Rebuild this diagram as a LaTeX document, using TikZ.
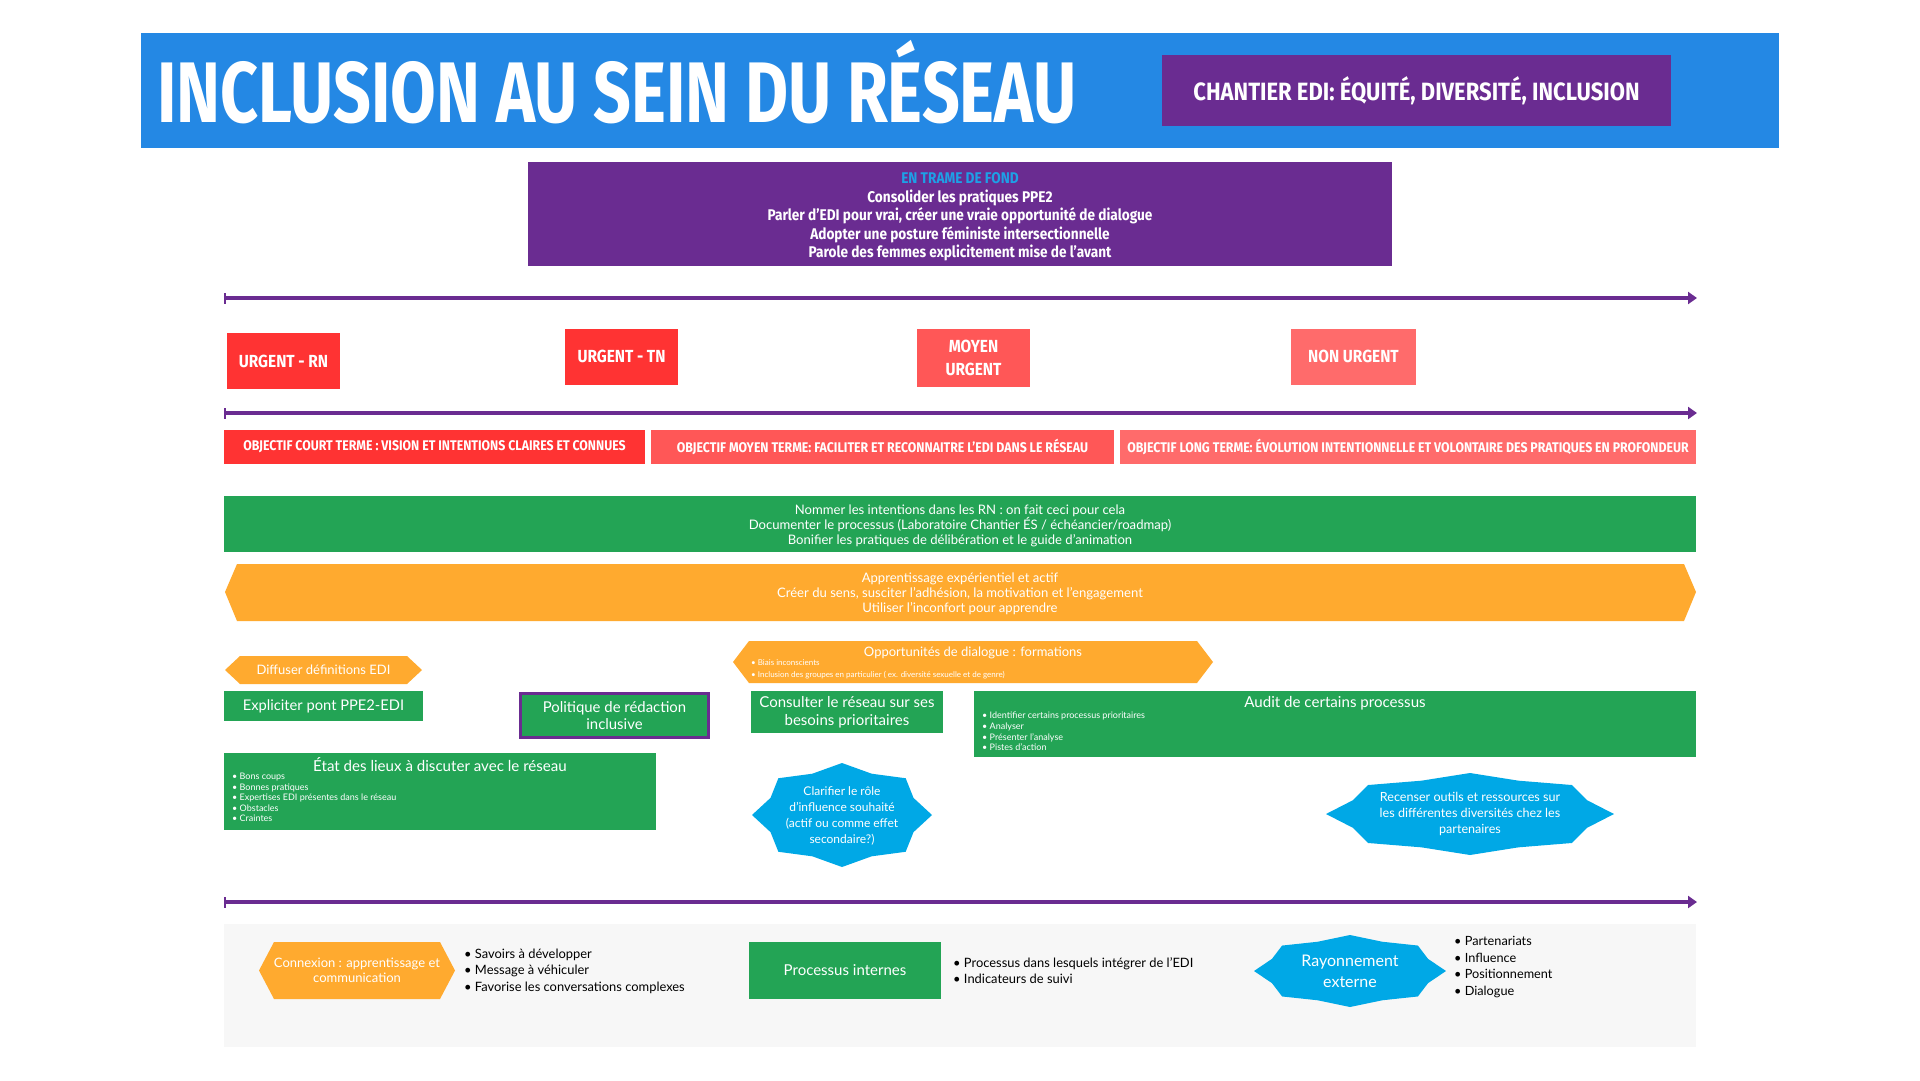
\documentclass[tikz,border=0pt]{standalone}
\usepackage{fontspec}
\setmainfont{Lato}
\newfontfamily\titrefont[FakeStretch=0.77]{Fira Sans}
\newfontfamily\grasfont[FakeStretch=0.88]{Fira Sans}
\usetikzlibrary{arrows.meta}

\definecolor{bleutitre}{HTML}{2488E4}
\definecolor{violetedi}{HTML}{6A2C91}
\definecolor{cyantrame}{HTML}{1EA0E6}
\definecolor{rougeurg}{HTML}{FF3333}
\definecolor{rougemoy}{HTML}{FF5757}
\definecolor{rougenon}{HTML}{FF6B6B}
\definecolor{vertedi}{HTML}{23A455}
\definecolor{orangeedi}{HTML}{FFAA2F}
\definecolor{bleuetoile}{HTML}{00A8E6}
\definecolor{grisfond}{HTML}{F7F7F7}

\begin{document}
\begin{tikzpicture}[x=1pt, y=-1pt]
	\tikzset{boite/.style={rectangle, inner sep=0, align=center, text=white},
		urgence/.style={boite, font=\grasfont\bfseries\fontsize{17.5}{23}\selectfont, minimum width=113, minimum height=56},
		objectif/.style={boite, font=\grasfont\bfseries\fontsize{14}{15}\selectfont, minimum height=34},
		txt/.style={inner sep=0, align=center, text=white, font=\fontsize{13.1}{15}\selectfont},
		puces/.style={inner sep=0, align=left, anchor=north west, text=white},
		noir/.style={inner sep=0, align=left, anchor=west, text=black, font=\fontsize{12.9}{16.5}\selectfont},
		fleche/.style={draw=violetedi, line width=3.5, {Bar[width=11pt, line width=1.5pt]}-{Triangle[length=9pt, width=12pt]}}};

	\fill[white] (0,0) rectangle (1920,1080);
	\useasboundingbox (0,0) rectangle (1920,1080);

	% bandeau du titre
	\fill[bleutitre] (141,33) rectangle (1779,148);
	\node[anchor=base west, inner sep=0, text=white, font=\titrefont\bfseries\fontsize{86}{86}\selectfont] (titre) at (157,122) {INCLUSION AU SEIN DU RÉSEAU};
	\node[boite, fill=violetedi, minimum width=509, minimum height=71, font=\grasfont\bfseries\fontsize{25}{28}\selectfont] (chantier) at (1416.5,90.5) {CHANTIER EDI: ÉQUITÉ, DIVERSITÉ, INCLUSION};

	\fill[violetedi] (528,162) rectangle (1392,266);
	\node[boite, font=\grasfont\bfseries\fontsize{15.5}{18.5}\selectfont] (trame) at (960,217) {\textcolor{cyantrame}{EN TRAME DE FOND}\\Consolider les pratiques PPE2\\Parler d’EDI pour vrai, créer une vraie opportunité de dialogue\\Adopter une posture féministe intersectionnelle\\Parole des femmes explicitement mise de l’avant};

	% lignes du temps
	\foreach \y/\n in {298/a, 413/b, 902/c} {
		\coordinate (g\n) at (224,\y);
		\coordinate (d\n) at (1697,\y);
		\draw[fleche] (g\n) -- (d\n);
	}

	\node[urgence, fill=rougeurg] (urgrn) at (283.5,361) {URGENT - RN};
	\node[urgence, fill=rougeurg] (urgtn) at (621.5,356.5) {URGENT - TN};
	\node[urgence, fill=rougemoy, minimum height=58] (moyen) at (973.5,358) {MOYEN\\URGENT};
	\node[urgence, fill=rougenon, minimum width=125] (nonurg) at (1353.5,356.5) {NON URGENT};

	\node[objectif, fill=rougeurg, minimum width=421] (objcourt) at (434.5,447) {OBJECTIF COURT TERME : VISION ET INTENTIONS CLAIRES ET CONNUES};
	\node[objectif, fill=rougemoy, minimum width=463] (objmoyen) at (882.5,447) {OBJECTIF MOYEN TERME: FACILITER ET RECONNAITRE L’EDI DANS LE RÉSEAU};
	\node[objectif, fill=rougenon, minimum width=576] (objlong) at (1408,447) {OBJECTIF LONG TERME: ÉVOLUTION INTENTIONNELLE ET VOLONTAIRE DES PRATIQUES EN PROFONDEUR};

	\fill[vertedi] (224,496) rectangle (1696,552);
	\node[txt] (nommer) at (960,526) {Nommer les intentions dans les RN : on fait ceci pour cela\\Documenter le processus (Laboratoire Chantier ÉS / échéancier/roadmap)\\Bonifier les pratiques de délibération et le guide d’animation};

	\fill[orangeedi] (225,592) -- (237,564) -- (1684,564) -- (1696,592) -- (1684,621) -- (237,621) -- cycle;
	\node[txt] (apprentissage) at (960,594) {Apprentissage expérientiel et actif\\Créer du sens, susciter l’adhésion, la motivation et l’engagement\\Utiliser l’inconfort pour apprendre};

	% court terme
	\fill[orangeedi] (225,670) -- (240,656) -- (407,656) -- (422,670) -- (407,684) -- (240,684) -- cycle;
	\node[txt, font=\fontsize{13}{15}\selectfont] (diffuser) at (323.5,670) {Diffuser définitions EDI};
	\node[boite, fill=vertedi, minimum width=199, minimum height=30, font=\fontsize{14.7}{17}\selectfont] (expliciter) at (323.5,706) {Expliciter pont PPE2-EDI};
	\node[boite, fill=vertedi, draw=violetedi, line width=3, minimum width=188, minimum height=44, font=\fontsize{14.9}{17.5}\selectfont] (politique) at (614.5,715.5) {Politique de rédaction\\inclusive};

	\node[boite, fill=vertedi, minimum width=432, minimum height=77] (etat) at (440,791.5) {};
	\node[txt, font=\fontsize{15.1}{17}\selectfont] (etattitre) at (440,765) {État des lieux à discuter avec le réseau};
	\node[puces, font=\fontsize{9}{10.5}\selectfont] (etatpuces) at (232,773) {• Bons coups\\• Bonnes pratiques\\• Expertises EDI présentes dans le réseau\\• Obstacles\\• Craintes};

	% moyen terme
	\fill[orangeedi] (733,662) -- (749,641) -- (1197,641) -- (1213,662) -- (1197,683) -- (749,683) -- cycle;
	\node[txt, font=\fontsize{13}{15}\selectfont] (opportunites) at (973,653) {Opportunités de dialogue : formations};
	\node[puces, font=\fontsize{8}{12}\selectfont] (opppuces) at (751,659) {• Biais inconscients\\• Inclusion des groupes en particulier ( ex. diversité sexuelle et de genre)};

	\node[boite, fill=vertedi, minimum width=192, minimum height=42, font=\fontsize{15}{18}\selectfont] (consulter) at (847,712) {Consulter le réseau sur ses\\besoins prioritaires};

	\node[boite, fill=vertedi, minimum width=722, minimum height=66] (audit) at (1335,724) {};
	\node[txt, font=\fontsize{15.1}{17}\selectfont] (audittitre) at (1335,703) {Audit de certains processus};
	\node[puces, font=\fontsize{9}{10.7}\selectfont] (auditpuces) at (982,712) {• Identifier certains processus prioritaires\\• Analyser\\• Présenter l’analyse\\• Pistes d’action};

	\begin{scope}[shift={(842,815)}, xscale=90, yscale=52]
		\fill[bleuetoile] plot[samples at={0,22.5,...,337.5}] (\x:{1-0.14*mod(round(\x/22.5),2)}) -- cycle;
	\end{scope}
	\node[txt, font=\fontsize{12}{16}\selectfont] (clarifier) at (842,816) {Clarifier le rôle\\d’influence souhaité\\(actif ou comme effet\\secondaire?)};

	\begin{scope}[shift={(1470,814)}, xscale=144, yscale=41]
		\fill[bleuetoile] plot[samples at={0,22.5,...,337.5}] (\x:{1-0.12*mod(round(\x/22.5),2)}) -- cycle;
	\end{scope}
	\node[txt, font=\fontsize{12.6}{16}\selectfont] (recenser) at (1470,814) {Recenser outils et ressources sur\\les différentes diversités chez les\\partenaires};

	% legende
	\fill[grisfond] (224,924) rectangle (1696,1047);
	\fill[orangeedi] (259,970.5) -- (274,942) -- (440,942) -- (455,970.5) -- (440,999) -- (274,999) -- cycle;
	\node[txt, font=\fontsize{13}{15}\selectfont] (connexion) at (357,970) {Connexion : apprentissage et\\communication};
	\node[noir] (connpuces) at (464,971) {• Savoirs à développer\\• Message à véhiculer\\• Favorise les conversations complexes};

	\node[boite, fill=vertedi, minimum width=192, minimum height=57, font=\fontsize{15}{17}\selectfont] (processus) at (845,970.5) {Processus internes};
	\node[noir] (procpuces) at (953,970.5) {• Processus dans lesquels intégrer de l’EDI\\• Indicateurs de suivi};

	\begin{scope}[shift={(1350,971)}, xscale=96, yscale=36]
		\fill[bleuetoile] plot[samples at={0,22.5,...,337.5}] (\x:{1-0.12*mod(round(\x/22.5),2)}) -- cycle;
	\end{scope}
	\node[txt, font=\fontsize{16}{21}\selectfont] (rayonnement) at (1350,971.5) {Rayonnement\\externe};
	\node[noir, font=\fontsize{12.7}{16.7}\selectfont] (raypuces) at (1454,967) {• Partenariats\\• Influence\\• Positionnement\\• Dialogue};

\end{tikzpicture}
\end{document}
